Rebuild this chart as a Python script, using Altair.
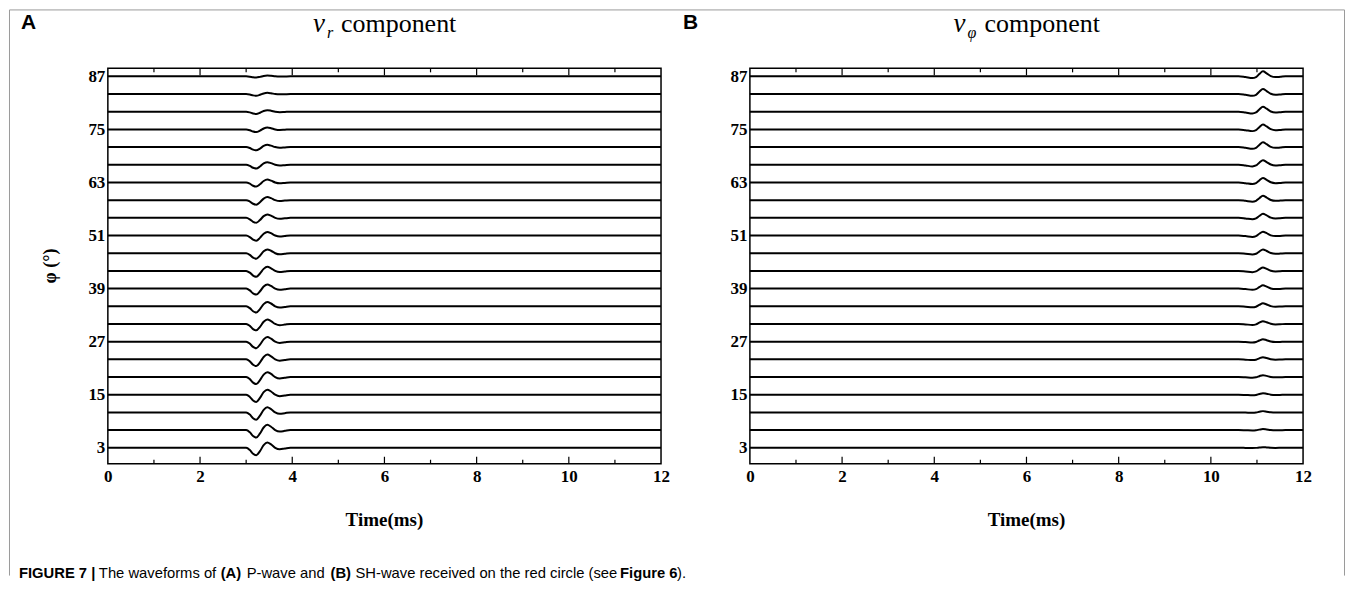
import altair as alt
import pandas as pd

# ---------------- data ----------------
angles = [3, 7, 11, 15, 19, 23, 27, 31, 35, 39, 43, 47, 51, 55, 59, 63, 67, 71, 75, 79, 83, 87]
y_label_values = [3, 15, 27, 39, 51, 63, 75, 87]
x_label_values = [0, 2, 4, 6, 8, 10, 12]
x_major_ticks = [2, 4, 6, 8, 10]
x_minor_ticks = [1, 3, 5, 7, 9, 11]

# P-wave (v_r) wavelet shape
p_time = [3.00, 3.08, 3.15, 3.22, 3.30, 3.38, 3.46, 3.54, 3.63, 3.73, 3.84, 3.96]
p_shape = [0.0, -0.3, -0.8, -1.0, -0.45, 0.35, 0.7, 0.45, 0.0, -0.2, -0.1, 0.0]
# trough amplitude per trace (in degrees of the vertical axis), angles 3..87
p_amp = [1.69, 1.69, 1.65, 1.63, 1.58, 1.53, 1.49, 1.44, 1.40, 1.35, 1.31,
         1.24, 1.17, 1.11, 1.02, 0.93, 0.84, 0.72, 0.61, 0.50, 0.38, 0.27]

# SH-wave (v_phi) wavelet shape
s_time = [10.60, 10.75, 10.90, 10.98, 11.05, 11.13, 11.21, 11.30, 11.40, 11.50, 11.62]
s_shape = [0.0, -0.15, -0.35, -0.15, 0.45, 1.0, 0.6, 0.05, -0.15, -0.1, 0.0]
s_amp = [0.14, 0.23, 0.29, 0.36, 0.43, 0.50, 0.56, 0.63, 0.68, 0.74, 0.79,
         0.84, 0.88, 0.93, 0.97, 1.02, 1.04, 1.08, 1.11, 1.13, 1.13, 1.13]

t_start, t_end = 0.0, 12.0


def traces(time, shape, amp):
    rows = []
    for a, A in zip(angles, amp):
        pts = [(t_start, 0.0)] + list(zip(time, shape)) + [(t_end, 0.0)]
        for i, (t, v) in enumerate(pts):
            rows.append({"angle": a, "i": i, "t": t, "y": a + A * v})
    return pd.DataFrame(rows)


W, H = 554, 396
SERIF = "Liberation Serif"
SANS = "Liberation Sans"

xs = alt.Scale(domain=[0, 12], nice=False, zero=False)
ys = alt.Scale(domain=[-0.61, 88.81], nice=False, zero=False)

x_axis = alt.Axis(values=x_label_values, format="d", title=None, ticks=False,
                  domain=False, grid=False, labelPadding=5, labelFlush=False,
                  labelFont=SERIF, labelFontWeight="bold", labelFontSize=17,
                  labelColor="black")
y_axis = alt.Axis(values=y_label_values, format="d", title=None, ticks=False,
                  domain=False, grid=False, labelPadding=3,
                  labelFont=SERIF, labelFontWeight="bold", labelFontSize=17,
                  labelColor="black")


def txt(s, x, y, size, font=SERIF, weight="normal", style="normal",
        align="left", baseline="alphabetic", angle=0):
    return alt.Chart(pd.DataFrame({"s": [s]})).mark_text(
        align=align, baseline=baseline, font=font, fontSize=size,
        fontWeight=weight, fontStyle=style, angle=angle, color="black"
    ).encode(x=alt.value(x), y=alt.value(y), text="s:N")


def hline(x1, x2, y, color="#9a9a9a"):
    return alt.Chart(pd.DataFrame({"a": [0]})).mark_rule(color=color, strokeWidth=1).encode(
        x=alt.value(x1), x2=alt.value(x2), y=alt.value(y))


def vline(x, y1, y2, color="#9a9a9a"):
    return alt.Chart(pd.DataFrame({"a": [0]})).mark_rule(color=color, strokeWidth=1).encode(
        x=alt.value(x), y=alt.value(y1), y2=alt.value(y2))


def tick_layer(values, y1, y2):
    return alt.Chart(pd.DataFrame({"t": values})).mark_rule(color="black", strokeWidth=1.2).encode(
        x=alt.X("t:Q", scale=xs, axis=x_axis), y=alt.value(y1), y2=alt.value(y2))


def panel(df, letter, sub, sub_w, extra):
    total = 14 + sub_w + 7 + 115
    x0 = W / 2 - total / 2
    lines = alt.Chart(df).mark_line(color="black", strokeWidth=2, interpolate="monotone").encode(
        x=alt.X("t:Q", scale=xs, axis=x_axis),
        y=alt.Y("y:Q", scale=ys, axis=y_axis),
        detail="angle:N",
        order="i:Q",
    )
    layers = [
        lines,
        tick_layer(x_major_ticks, H, H - 7),
        tick_layer(x_minor_ticks, H, H - 4),
        tick_layer(x_major_ticks, 0, 7),
        tick_layer(x_minor_ticks, 0, 4),
        txt(letter[0], letter[1], -39, 21, font=SANS, weight="bold"),
        txt("v", x0, -36, 27, style="italic"),
        txt(sub, x0 + 14, -30, 16, style="italic"),
        txt("component", x0 + 14 + sub_w + 7, -36, 26),
        txt("Time(ms)", W / 2, 452, 19, weight="bold", align="center", baseline="middle"),
    ] + extra
    return alt.layer(*layers).properties(width=W, height=H)


caption = [
    ("FIGURE 7 |", -89, "bold"),
    ("The waveforms of", -9, "normal"),
    ("(A)", 113, "bold"),
    ("P-wave and", 139, "normal"),
    ("(B)", 223, "bold"),
    ("SH-wave received on the red circle (see", 248, "normal"),
    ("Figure 6", 513, "bold"),
    (").", 570, "normal"),
]

extra_a = [
    txt("φ (°)", -57, 198, 18, weight="bold", align="center", baseline="middle", angle=270),
    hline(-98.5, 1238.5, -58.5),
    vline(-98.5, -58.5, 508),
    vline(1238.5, -58.5, 508),
] + [txt(s, x, 506, 14.8, font=SANS, weight=w, baseline="middle") for s, x, w in caption]

panel_a = panel(traces(p_time, p_shape, p_amp), ("A", -87), "r", 7, extra_a)
panel_b = panel(traces(s_time, s_shape, s_amp), ("B", -67), "φ", 10, [])

chart = alt.hconcat(panel_a, panel_b, spacing=89, bounds="flush").properties(
    padding=0, background="white"
).configure_view(
    stroke="black", strokeWidth=1.5
)

chart.save("out.html", embed_options={"renderer": "svg", "actions": False})
